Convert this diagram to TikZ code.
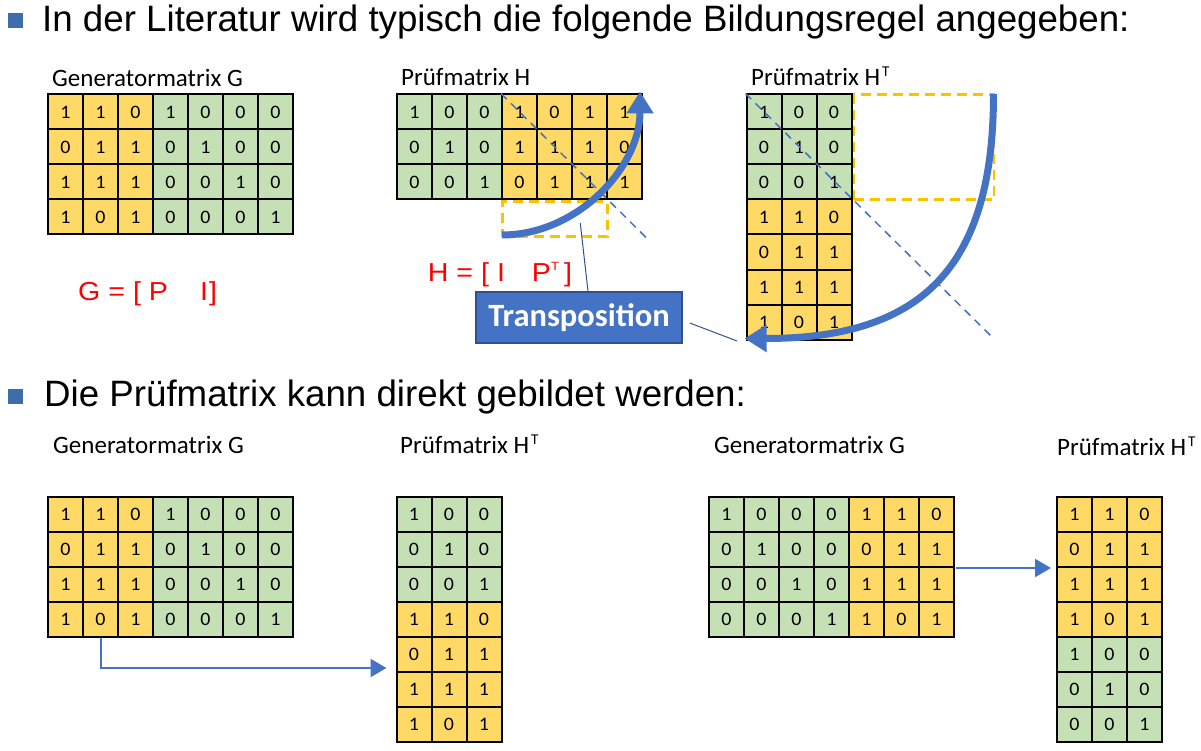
\documentclass[tikz,border=0pt]{standalone}
\usepackage{fontspec}
\setmainfont{Liberation Sans}
\newfontfamily\calibri{Carlito}
\newfontfamily\digitfont[FakeStretch=1.05]{Carlito}
\newfontfamily\widesans[FakeStretch=1.1]{Liberation Sans}
\usetikzlibrary{arrows.meta,calc}

\definecolor{cy}{HTML}{FFD966}
\definecolor{cg}{HTML}{C5E0B4}
\definecolor{accent}{HTML}{4472C4}
\definecolor{bulletblue}{HTML}{3D6DAA}
\definecolor{dashyellow}{HTML}{FFC000}
\definecolor{boxedge}{HTML}{2F528F}

\tikzset{
  cell/.style={draw=black, line width=2pt, minimum width=35pt, minimum height=35pt,
    inner sep=0pt, font=\digitfont\fontsize{19}{19}\selectfont},
  title/.style={anchor=base west, inner sep=0pt, font=\calibri\fontsize{25}{25}\selectfont},
  heading/.style={anchor=base west, inner sep=0pt, font=\fontsize{36.7}{36.7}\selectfont},
  formula/.style={anchor=base west, inner sep=0pt, text=red, font=\widesans\fontsize{26}{26}\selectfont},
  bulletsq/.style={fill=bulletblue, minimum size=15pt, inner sep=0pt},
  flowarrow/.style={draw=accent, line width=2pt, -{Triangle[length=16pt,width=18pt]}},
  bigarrow/.style={draw=accent, line width=7pt, -{Triangle[length=22pt,width=26pt]}},
  diag/.style={draw=accent, line width=1.5pt, dash pattern=on 8pt off 6pt},
  pickbox/.style={draw=dashyellow, line width=2.5pt, dash pattern=on 10pt off 6pt, inner sep=0pt},
  callout/.style={draw=boxedge, line width=1pt},
  transbox/.style={fill=accent, draw=boxedge, line width=1.5pt, text=white,
    minimum width=206pt, minimum height=51pt, inner sep=0pt,
    font=\calibri\bfseries\fontsize{32.5}{32.5}\selectfont},
}

% grid of cells: name, left, top, rows of colour/value pairs
\newcommand\drawgrid[4]{%
  \foreach \row [count=\r] in {#4} {
    \foreach \c/\v [count=\k] in \row {
      \node[cell, fill=\c] (#1-\r-\k) at ({#2+35*(\k-0.5)}, {#3+35*(\r-0.5)}) {\v};
    }
  }%
}
\newcommand\supT{\hspace{2pt}\raisebox{9pt}{\fontsize{15}{15}\selectfont T}}

\begin{document}
\begin{tikzpicture}[x=1pt, y=-1pt]
\useasboundingbox (0,0) rectangle (1201,751);

% headings
\node[bulletsq] (b1) at (15,20.5) {};
\node[heading] (t1) at (42,32) {In der Literatur wird typisch die folgende Bildungsregel angegeben:};
\node[bulletsq] (b2) at (15,396) {};
\node[heading] (t2) at (44,406) {Die Prüfmatrix kann direkt gebildet werden:};

% ---------- upper row ----------
\node[title] (lG) at (52,87) {Generatormatrix G};
\node[title] (lH) at (401,86) {Prüfmatrix H};
\node[title] (lHT) at (751,86) {Prüfmatrix H\supT};

\drawgrid{G}{48}{94.5}{
  {cy/1,cy/1,cy/0,cg/1,cg/0,cg/0,cg/0},
  {cy/0,cy/1,cy/1,cg/0,cg/1,cg/0,cg/0},
  {cy/1,cy/1,cy/1,cg/0,cg/0,cg/1,cg/0},
  {cy/1,cy/0,cy/1,cg/0,cg/0,cg/0,cg/1}}
\drawgrid{H}{397}{94.5}{
  {cg/1,cg/0,cg/0,cy/1,cy/0,cy/1,cy/1},
  {cg/0,cg/1,cg/0,cy/1,cy/1,cy/1,cy/0},
  {cg/0,cg/0,cg/1,cy/0,cy/1,cy/1,cy/1}}
\drawgrid{HT}{746.5}{94.5}{
  {cg/1,cg/0,cg/0},
  {cg/0,cg/1,cg/0},
  {cg/0,cg/0,cg/1},
  {cy/1,cy/1,cy/0},
  {cy/0,cy/1,cy/1},
  {cy/1,cy/1,cy/1},
  {cy/1,cy/0,cy/1}}

\node[formula] (fG) at (78,300) {G = [ P\hspace{32pt}I\hspace{1.3pt}]};
\node[formula] (fH) at (427.7,281.7) {H = [ I\hspace{27pt}P\raisebox{11pt}{\fontsize{12}{12}\selectfont T}\hspace{5pt}]};

% diagonals
\coordinate (hdiag) at ($(H-1-4.north west)+(148,147)$);
\draw[diag] (H-1-4.north west) -- (hdiag);
\coordinate (htdiag) at ($(HT-1-1.north west)+(246,243)$);
\draw[diag] (HT-1-1.north west) -- (htdiag);

% target areas of the transposition
\node[pickbox, minimum width=105pt, minimum height=35pt, anchor=north west] (pick) at (H-3-4.south west) {};
\node[pickbox, minimum width=140pt, minimum height=105pt, anchor=north west] (pickT) at (HT-1-3.north east) {};

% turning arrows
\draw[bigarrow] ($(pick.south west)+(1,-3)$)
  .. controls +(75,0) and +(0,76) .. ($(H-1-7.north east)+(-3,-2)$);
\draw[bigarrow] ($(pickT.north east)+(-1.5,0.5)$)
  .. controls +(0,175) and +(176,0) .. ($(HT-7-1.south west)+(-1,-2)$);

% label with its callouts
\node[transbox] (trans) at (579,317.5) {Transposition};
\coordinate (callA) at ($(pick.south)+(25.5,-15)$);
\draw[callout] ($(trans.north)+(9,0)$) -- (callA);
\coordinate (callB) at ($(HT-7-1.south west)+(-8.5,0.5)$);
\draw[callout] ($(trans.east)+(7,5.5)$) -- (callB);

% ---------- lower row ----------
\node[title] (lG2) at (53,453) {Generatormatrix G};
\node[title] (lHT2) at (400,453) {Prüfmatrix H\supT};
\node[title] (lG3) at (714,453) {Generatormatrix G};
\node[title] (lHT3) at (1057,455) {Prüfmatrix H\supT};

\drawgrid{G2}{48}{497}{
  {cy/1,cy/1,cy/0,cg/1,cg/0,cg/0,cg/0},
  {cy/0,cy/1,cy/1,cg/0,cg/1,cg/0,cg/0},
  {cy/1,cy/1,cy/1,cg/0,cg/0,cg/1,cg/0},
  {cy/1,cy/0,cy/1,cg/0,cg/0,cg/0,cg/1}}
\drawgrid{HT2}{396.5}{497}{
  {cg/1,cg/0,cg/0},
  {cg/0,cg/1,cg/0},
  {cg/0,cg/0,cg/1},
  {cy/1,cy/1,cy/0},
  {cy/0,cy/1,cy/1},
  {cy/1,cy/1,cy/1},
  {cy/1,cy/0,cy/1}}
\drawgrid{G3}{709}{497}{
  {cg/1,cg/0,cg/0,cg/0,cy/1,cy/1,cy/0},
  {cg/0,cg/1,cg/0,cg/0,cy/0,cy/1,cy/1},
  {cg/0,cg/0,cg/1,cg/0,cy/1,cy/1,cy/1},
  {cg/0,cg/0,cg/0,cg/1,cy/1,cy/0,cy/1}}
\drawgrid{HT3}{1057}{497}{
  {cy/1,cy/1,cy/0},
  {cy/0,cy/1,cy/1},
  {cy/1,cy/1,cy/1},
  {cy/1,cy/0,cy/1},
  {cg/1,cg/0,cg/0},
  {cg/0,cg/1,cg/0},
  {cg/0,cg/0,cg/1}}

\coordinate (lowend) at ($(HT2-5-1.west)+(-9,13.5)$);
\draw[flowarrow] (G2-4-2.south) |- (lowend);
\draw[flowarrow] ($(G3-2-7.south east)+(1,0)$) -- ($(HT3-2-1.south west)+(-5,0)$);
\end{tikzpicture}
\end{document}
